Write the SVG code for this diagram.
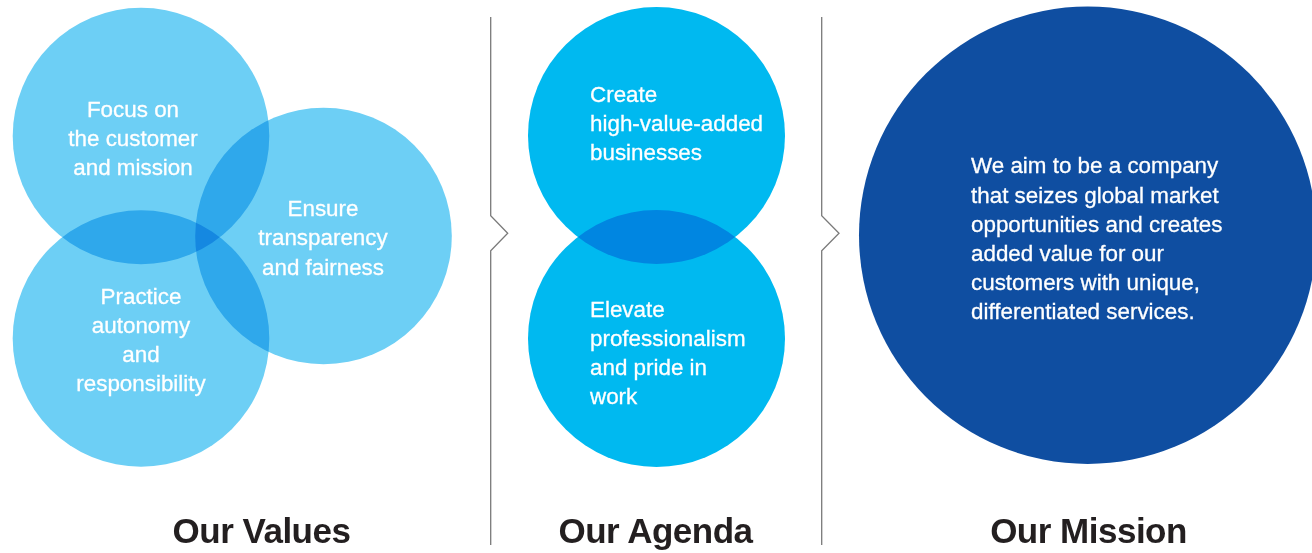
<svg xmlns="http://www.w3.org/2000/svg" width="1312" height="553" viewBox="0 0 1312 553">
<style>
.val{fill:#6DCFF5;mix-blend-mode:multiply}
.agd{fill:#00B9F0;mix-blend-mode:multiply}
.mis{fill:#0F4EA1}
.t{font-family:"Liberation Sans",Arial,sans-serif;font-size:22.4px;fill:#FFFFFF;stroke:#FFFFFF;stroke-width:0.3}
.c{text-anchor:middle}
.title{font-family:"Liberation Sans",Arial,sans-serif;font-size:35px;font-weight:bold;fill:#231F20;text-anchor:middle;letter-spacing:-0.5px}
.div{fill:none;stroke:#7A7A7A;stroke-width:1.3}
</style>
<rect width="1312" height="553" fill="#FFFFFF"/>
<g id="dividers">
<polyline class="div" points="490.7,17 490.7,215.7 507.7,233.3 490.7,250.7 490.7,545"/>
<polyline class="div" points="821.7,17 821.7,215.7 839,233.3 821.7,250.7 821.7,545"/>
</g>
<g id="value-focus">
<circle class="val" cx="141" cy="136" r="128.3"/>
<text class="t c" x="133" y="116.5">Focus on</text>
<text class="t c" x="133" y="145.8">the customer</text>
<text class="t c" x="133" y="175">and mission</text>
</g>
<g id="value-transparency">
<circle class="val" cx="323.5" cy="236" r="128.3"/>
<text class="t c" x="323" y="216">Ensure</text>
<text class="t c" x="323" y="245.3">transparency</text>
<text class="t c" x="323" y="274.5">and fairness</text>
</g>
<g id="value-autonomy">
<circle class="val" cx="141" cy="338.5" r="128.3"/>
<text class="t c" x="141" y="303.5">Practice</text>
<text class="t c" x="141" y="332.8">autonomy</text>
<text class="t c" x="141" y="362.1">and</text>
<text class="t c" x="141" y="391.4">responsibility</text>
</g>
<g id="agenda-create">
<circle class="agd" cx="656.5" cy="135.5" r="128.5"/>
<text class="t" x="590" y="101.5">Create</text>
<text class="t" x="590" y="130.8">high-value-added</text>
<text class="t" x="590" y="160.1">businesses</text>
</g>
<g id="agenda-elevate">
<circle class="agd" cx="656.5" cy="338.5" r="128.5"/>
<text class="t" x="590" y="316.5">Elevate</text>
<text class="t" x="590" y="345.8">professionalism</text>
<text class="t" x="590" y="375.1">and pride in</text>
<text class="t" x="590" y="404.4">work</text>
</g>
<g id="mission">
<circle class="mis" cx="1087.7" cy="235.3" r="228.7"/>
<text class="t" x="971" y="173.3">We aim to be a company</text>
<text class="t" x="971" y="202.5">that seizes global market</text>
<text class="t" x="971" y="231.7">opportunities and creates</text>
<text class="t" x="971" y="260.9">added value for our</text>
<text class="t" x="971" y="290.1">customers with unique,</text>
<text class="t" x="971" y="319.3">differentiated services.</text>
</g>
<g id="titles">
<text class="title" x="261.5" y="543">Our Values</text>
<text class="title" x="655.5" y="543">Our Agenda</text>
<text class="title" x="1088.5" y="543">Our Mission</text>
</g>
</svg>
